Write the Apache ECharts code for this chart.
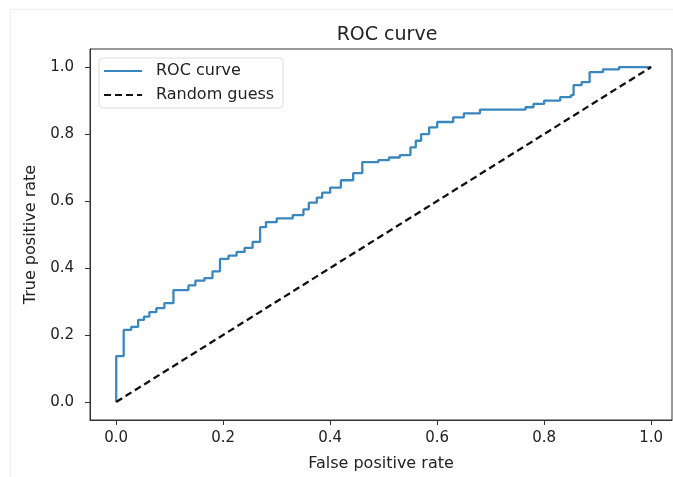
<!DOCTYPE html>
<html>
<head>
    <meta charset="UTF-8">
    <title>ROC curve</title>
    <script src="https://cdn.jsdelivr.net/npm/echarts@6/dist/echarts.min.js"></script>
    <style>
        html, body { margin: 0; padding: 0; background: #fff; }
    </style>
</head>
<body>
    <div id="chart" style="width:673px; height:477px;"></div>
    <script>
        // ROC corners (false positive rate, true positive rate)
        var fpr = [0, 0, 0.014, 0.014, 0.028, 0.028, 0.041, 0.041, 0.052, 0.052, 0.062, 0.062,
            0.075, 0.075, 0.09, 0.09, 0.107, 0.107, 0.135, 0.135, 0.148, 0.148, 0.165, 0.165,
            0.18, 0.18, 0.194, 0.194, 0.21, 0.21, 0.225, 0.225, 0.24, 0.24, 0.255, 0.255,
            0.269, 0.269, 0.28, 0.28, 0.3, 0.3, 0.33, 0.33, 0.35, 0.35, 0.36, 0.36,
            0.375, 0.375, 0.385, 0.385, 0.4, 0.4, 0.42, 0.42, 0.443, 0.443, 0.46, 0.46,
            0.49, 0.49, 0.51, 0.51, 0.53, 0.53, 0.55, 0.55, 0.56, 0.56, 0.57, 0.57,
            0.585, 0.585, 0.6, 0.6, 0.63, 0.63, 0.65, 0.65, 0.68, 0.68, 0.765, 0.765,
            0.78, 0.78, 0.8, 0.8, 0.83, 0.83, 0.85, 0.85, 0.855, 0.855, 0.87, 0.87,
            0.885, 0.885, 0.91, 0.91, 0.94, 0.94, 1];
        var tpr = [0, 0.137, 0.137, 0.215, 0.215, 0.224, 0.224, 0.245, 0.245, 0.255, 0.255, 0.268,
            0.268, 0.28, 0.28, 0.295, 0.295, 0.334, 0.334, 0.348, 0.348, 0.362, 0.362, 0.37,
            0.37, 0.39, 0.39, 0.427, 0.427, 0.437, 0.437, 0.448, 0.448, 0.46, 0.46, 0.478,
            0.478, 0.522, 0.522, 0.537, 0.537, 0.548, 0.548, 0.558, 0.558, 0.575, 0.575, 0.595,
            0.595, 0.61, 0.61, 0.625, 0.625, 0.64, 0.64, 0.662, 0.662, 0.683, 0.683, 0.716,
            0.716, 0.722, 0.722, 0.73, 0.73, 0.737, 0.737, 0.76, 0.76, 0.78, 0.78, 0.8,
            0.8, 0.82, 0.82, 0.836, 0.836, 0.85, 0.85, 0.862, 0.862, 0.873, 0.873, 0.88,
            0.88, 0.89, 0.89, 0.9, 0.9, 0.91, 0.91, 0.916, 0.916, 0.946, 0.946, 0.955,
            0.955, 0.985, 0.985, 0.993, 0.993, 1, 1];
        var guessX = [0, 1];
        var guessY = [0, 1];
        var xTicks = [0, 0.2, 0.4, 0.6, 0.8, 1.0];
        var yTicks = [0, 0.2, 0.4, 0.6, 0.8, 1.0];

        function pairs(xs, ys) {
            return xs.map(function (x, i) { return [x, ys[i]]; });
        }

        var font = 'DejaVu Sans';
        var chart = echarts.init(document.getElementById('chart'), null, {renderer: 'canvas'});
        chart.setOption({
            animation: false,
            backgroundColor: '#fff',
            title: {
                text: 'ROC curve',
                left: 382,
                textAlign: 'center',
                top: 21,
                textStyle: {fontFamily: font, fontSize: 19, fontWeight: 'normal', color: '#222'}
            },
            graphic: [{
                type: 'rect',
                shape: {x: 10.5, y: 9.5, width: 680, height: 480},
                style: {fill: 'none', stroke: '#eee', lineWidth: 1},
                silent: true
            }],
            legend: {
                left: 99,
                top: 58,
                orient: 'vertical',
                padding: [5, 9, 5, 4],
                itemGap: 8,
                itemWidth: 38,
                itemHeight: 14,
                backgroundColor: '#fff',
                borderColor: '#ddd',
                borderWidth: 1,
                borderRadius: 4,
                itemStyle: {opacity: 0},
                textStyle: {fontFamily: font, fontSize: 16, color: '#222', padding: [0, 0, 0, 9]},
                data: ['ROC curve', 'Random guess']
            },
            grid: {
                left: 90, top: 49, width: 582, height: 371,
                outerBoundsMode: 'none',
                containLabel: false,
                show: true, borderColor: '#333', borderWidth: 1
            },
            xAxis: {
                type: 'value',
                min: -0.049,
                max: 1.039,
                name: 'False positive rate',
                nameLocation: 'middle',
                nameGap: 36,
                nameTextStyle: {fontFamily: font, fontSize: 16, color: '#222'},
                axisLine: {onZero: false, lineStyle: {color: '#333'}},
                axisTick: {show: true, length: 5, customValues: xTicks, lineStyle: {color: '#333'}},
                axisLabel: {
                    customValues: xTicks, fontFamily: font, fontSize: 15, color: '#222', margin: 11,
                    formatter: function (v) { return v.toFixed(1); }
                },
                splitLine: {show: false}
            },
            yAxis: {
                type: 'value',
                min: -0.054,
                max: 1.054,
                name: 'True positive rate',
                nameLocation: 'middle',
                nameGap: 48,
                nameTextStyle: {fontFamily: font, fontSize: 16, color: '#222'},
                axisLine: {show: true, onZero: false, lineStyle: {color: '#333'}},
                axisTick: {show: true, length: 5, customValues: yTicks, lineStyle: {color: '#333'}},
                axisLabel: {
                    customValues: yTicks, fontFamily: font, fontSize: 15, color: '#222', margin: 16,
                    formatter: function (v) { return v.toFixed(1); }
                },
                splitLine: {show: false}
            },
            series: [
                {
                    name: 'ROC curve',
                    type: 'line',
                    symbol: 'none',
                    color: '#3a87bd',
                    lineStyle: {width: 2.3, color: '#3a87bd'},
                    data: pairs(fpr, tpr)
                },
                {
                    name: 'Random guess',
                    type: 'line',
                    symbol: 'none',
                    color: '#111',
                    lineStyle: {width: 2.3, color: '#111', type: [7, 4]},
                    data: pairs(guessX, guessY)
                }
            ]
        });
    </script>
</body>
</html>
